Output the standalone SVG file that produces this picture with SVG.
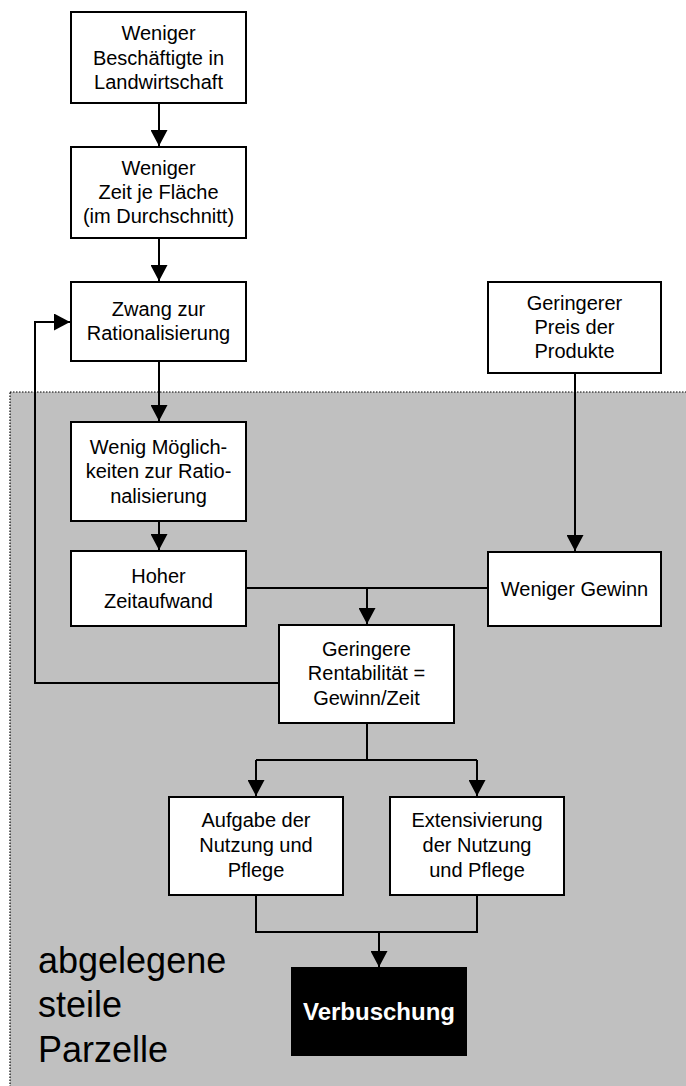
<svg xmlns="http://www.w3.org/2000/svg" width="686" height="1086" viewBox="0 0 686 1086">
<style>
.box{fill:#fff;stroke:#000;stroke-width:2}
.t{font-family:"Liberation Sans",Arial,sans-serif;font-size:20px;fill:#000;text-anchor:middle}
.c{fill:none;stroke:#000;stroke-width:2}
</style>
<defs>
<marker id="ah" markerWidth="16" markerHeight="17" refX="16" refY="8.5" orient="auto" markerUnits="userSpaceOnUse">
<path d="M0,0 L16,8.5 L0,17 Z" fill="#000"/>
</marker>
</defs>
<rect id="area" x="10" y="392" width="690" height="700" fill="#c0c0c0" stroke="#000" stroke-width="1.2" stroke-dasharray="1.5,1.5"/>
<g id="connectors">
<path class="c" d="M159,103 V146" marker-end="url(#ah)"/>
<path class="c" d="M159,238 V281" marker-end="url(#ah)"/>
<path class="c" d="M159,361 V421" marker-end="url(#ah)"/>
<path class="c" d="M159,521 V550" marker-end="url(#ah)"/>
<path class="c" d="M575,373 V551" marker-end="url(#ah)"/>
<path class="c" d="M246,588 H488"/>
<path class="c" d="M367,588 V624" marker-end="url(#ah)"/>
<path class="c" d="M279,683 H35 V322 H70" marker-end="url(#ah)"/>
<path class="c" d="M367,723 V760 M256,760 H477"/>
<path class="c" d="M256,760 V796" marker-end="url(#ah)"/>
<path class="c" d="M477,760 V796" marker-end="url(#ah)"/>
<path class="c" d="M256,895 V932 H477 V895"/>
<path class="c" d="M379,932 V967" marker-end="url(#ah)"/>
</g>
<g id="n1"><rect class="box" x="71" y="12" width="175" height="91"/>
<text class="t" x="158.5" y="40">Weniger</text><text class="t" x="158.5" y="65">Beschäftigte in</text><text class="t" x="158.5" y="89">Landwirtschaft</text></g>
<g id="n2"><rect class="box" x="71" y="147" width="175" height="91"/>
<text class="t" x="158.5" y="175">Weniger</text><text class="t" x="158.5" y="199">Zeit je Fläche</text><text class="t" x="158.5" y="223">(im Durchschnitt)</text></g>
<g id="n3"><rect class="box" x="71" y="282" width="175" height="79"/>
<text class="t" x="158.5" y="316">Zwang zur</text><text class="t" x="158.5" y="340">Rationalisierung</text></g>
<g id="n4"><rect class="box" x="71" y="422" width="175" height="99"/>
<text class="t" x="158.5" y="454">Wenig Möglich-</text><text class="t" x="158.5" y="478">keiten zur Ratio-</text><text class="t" x="158.5" y="503">nalisierung</text></g>
<g id="n5"><rect class="box" x="71" y="551" width="175" height="75"/>
<text class="t" x="158.5" y="583">Hoher</text><text class="t" x="158.5" y="608">Zeitaufwand</text></g>
<g id="n6"><rect class="box" x="488" y="282" width="173" height="91"/>
<text class="t" x="574.5" y="310">Geringerer</text><text class="t" x="574.5" y="334">Preis der</text><text class="t" x="574.5" y="358">Produkte</text></g>
<g id="n7"><rect class="box" x="488" y="552" width="173" height="74"/>
<text class="t" x="574.5" y="596">Weniger Gewinn</text></g>
<g id="n8"><rect class="box" x="279" y="625" width="175" height="98"/>
<text class="t" x="366.5" y="656">Geringere</text><text class="t" x="366.5" y="680">Rentabilität =</text><text class="t" x="366.5" y="705">Gewinn/Zeit</text></g>
<g id="n9"><rect class="box" x="169" y="797" width="174" height="98"/>
<text class="t" x="256" y="827">Aufgabe der</text><text class="t" x="256" y="852">Nutzung und</text><text class="t" x="256" y="877">Pflege</text></g>
<g id="n10"><rect class="box" x="390" y="797" width="174" height="98"/>
<text class="t" x="477" y="827">Extensivierung</text><text class="t" x="477" y="852">der Nutzung</text><text class="t" x="477" y="877">und Pflege</text></g>
<g id="n11"><rect x="292" y="968" width="174" height="87" fill="#000" stroke="#000" stroke-width="2"/>
<text class="t" x="379" y="1020" style="font-size:24px;font-weight:bold;fill:#fff">Verbuschung</text></g>
<g id="label" style="font-family:'Liberation Sans',Arial,sans-serif;font-size:36px;fill:#000">
<text x="38" y="973">abgelegene</text><text x="38" y="1017">steile</text><text x="38" y="1062">Parzelle</text></g>
</svg>
